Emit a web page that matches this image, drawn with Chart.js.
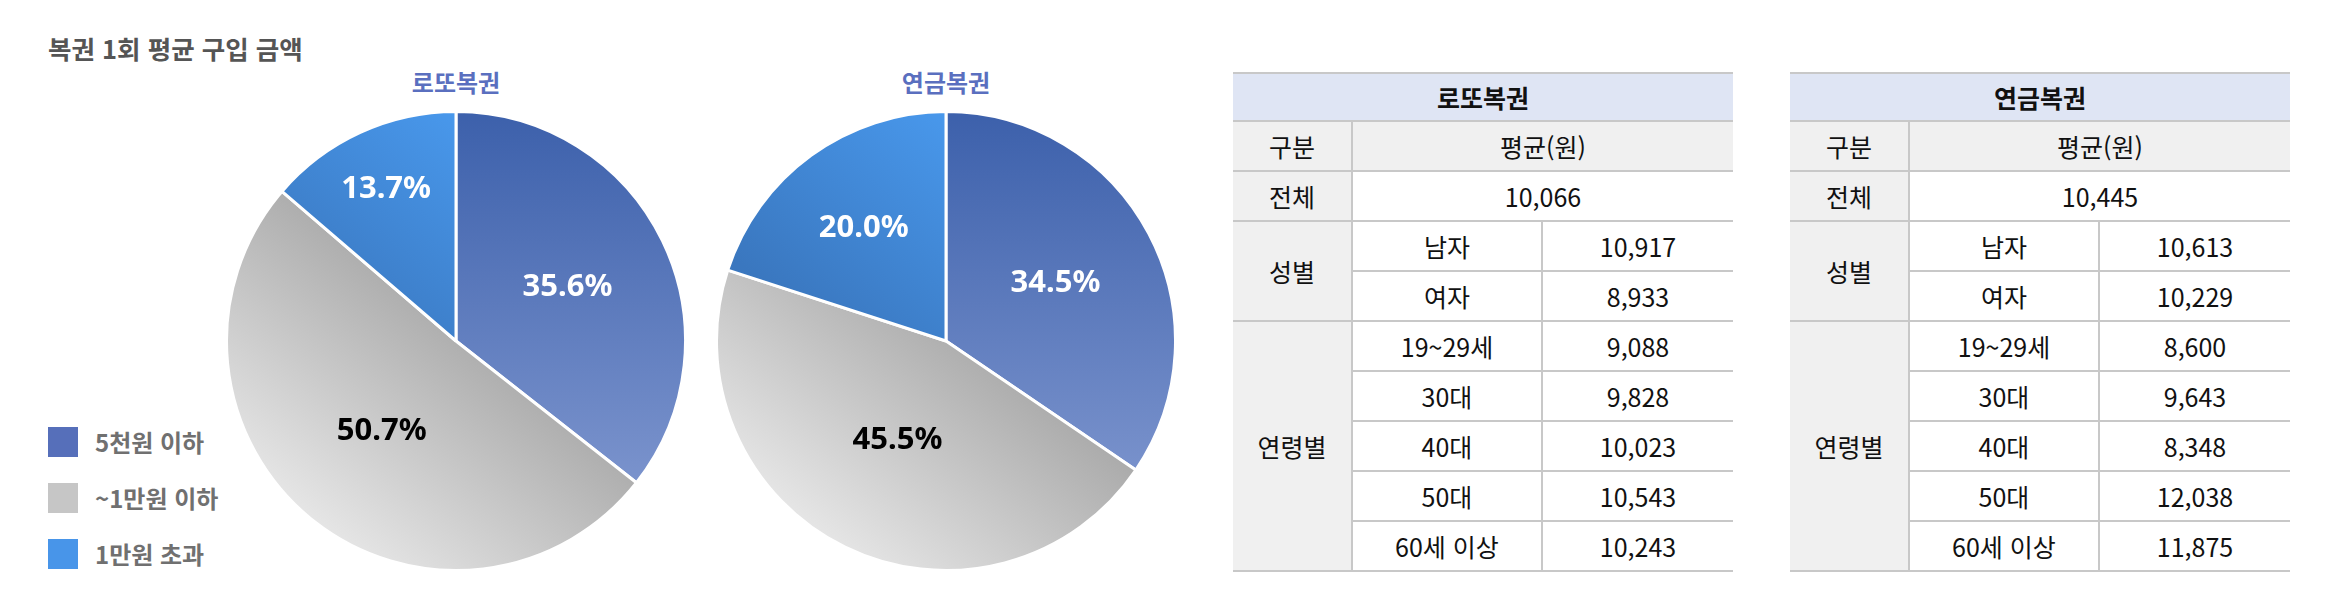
<!DOCTYPE html>
<html lang="ko">
<head>
<meta charset="utf-8">
<script src="https://cdn.jsdelivr.net/npm/chart.js@4.4.1/dist/chart.umd.min.js"></script>
<style>
  html, body { margin: 0; padding: 0; background: #ffffff; }
  body { width: 2336px; height: 600px; position: relative; overflow: hidden; font-family: "Noto Sans CJK KR", "Noto Sans", sans-serif; }
  #mainTitle { position: absolute; left: 48px; top: 30px; font-size: 25.5px; font-weight: 700; color: #555555; line-height: 36px; white-space: nowrap; }
  .pieTitle { position: absolute; top: 66px; width: 300px; margin-left: -150px; text-align: center; font-size: 24px; font-weight: 700; color: #5a6fbf; line-height: 32px; }
  canvas.pie { position: absolute; }
  .legItem { position: absolute; left: 48px; height: 30px; }
  .legBox { position: absolute; left: 0; top: 0; width: 30px; height: 30px; }
  .legText { position: absolute; left: 47px; top: -2px; line-height: 34px; font-size: 24px; font-weight: 700; color: #707070; white-space: nowrap; }
  table.stat { position: absolute; top: 72px; border-collapse: collapse; table-layout: fixed; font-size: 25px; color: #111111; border-left: 2px hidden; border-right: 2px hidden; }
  table.stat td { border: 2px solid #c8c8c8; text-align: center; vertical-align: middle; padding: 0; line-height: 30px; white-space: nowrap; }
  table.stat tr.head td { background: #dfe5f4; font-weight: 700; height: 46px; }
  table.stat tr.row td { height: 48px; }
  table.stat td.gray { background: #f0f0f0; }
</style>
</head>
<body>
<div id="mainTitle">복권 1회 평균 구입 금액</div>
<div class="pieTitle" style="left:456px">로또복권</div>
<div class="pieTitle" style="left:946px">연금복권</div>
<canvas class="pie" id="pie1" width="462" height="462" style="left:225px; top:110px;"></canvas>
<canvas class="pie" id="pie2" width="462" height="462" style="left:715px; top:110px;"></canvas>
<div id="legend"></div>
<table class="stat" id="tbl1" style="left:1233px; width:500px;"></table>
<table class="stat" id="tbl2" style="left:1790px; width:500px;"></table>
<script>
// ---- data ----
const categories = ['5천원 이하', '~1만원 이하', '1만원 초과'];
const lottoShare = [35.6, 50.7, 13.7];
const pensionShare = [34.5, 45.5, 20.0];

const genderLabels = ['남자', '여자'];
const ageLabels = ['19~29세', '30대', '40대', '50대', '60세 이상'];

const lottoTotal = 10066;
const lottoGender = [10917, 8933];
const lottoAge = [9088, 9828, 10023, 10543, 10243];

const pensionTotal = 10445;
const pensionGender = [10613, 10229];
const pensionAge = [8600, 9643, 8348, 12038, 11875];

// ---- styles ----
const legendColors = ['#566fba', '#c6c6c6', '#4895e9'];
const labelColors = ['#ffffff', '#000000', '#ffffff'];

function sliceFill(c) {
  const index = c.dataIndex;
  const chart = c.chart;
  const a = chart.chartArea;
  if (!a || index === undefined) return legendColors[index || 0];
  const cx = (a.left + a.right) / 2, cy = (a.top + a.bottom) / 2;
  const r = Math.min(a.right - a.left, a.bottom - a.top) / 2;
  const g = chart.ctx;
  const dx = -0.63, dy = 0.78;
  let grad;
  if (index === 0) {
    grad = g.createLinearGradient(cx, cy - r, cx, cy + 0.68 * r);
    grad.addColorStop(0, '#3c60ab');
    grad.addColorStop(1, '#7d95ce');
  } else if (index === 1) {
    grad = g.createLinearGradient(cx - 0.1 * r * dx, cy - 0.1 * r * dy, cx + r * dx, cy + r * dy);
    grad.addColorStop(0, '#aaaaaa');
    grad.addColorStop(1, '#e6e6e6');
  } else {
    grad = g.createLinearGradient(cx - 0.8 * r * dx, cy - 0.8 * r * dy, cx + 0.3 * r * dx, cy + 0.3 * r * dy);
    grad.addColorStop(0, '#4999ed');
    grad.addColorStop(1, '#3a77bf');
  }
  return grad;
}

const sliceLabels = {
  id: 'sliceLabels',
  afterDatasetsDraw(chart, args, opts) {
    const ctx = chart.ctx;
    const meta = chart.getDatasetMeta(0);
    const ds = chart.data.datasets[0];
    meta.data.forEach((arc, i) => {
      const p = arc.getProps(['x', 'y', 'startAngle', 'endAngle', 'outerRadius'], true);
      const mid = (p.startAngle + p.endAngle) / 2;
      const d = p.outerRadius * opts.fractions[i];
      ctx.save();
      ctx.font = 'bold 31px "Noto Sans", "Open Sans", sans-serif';
      ctx.fillStyle = labelColors[i];
      ctx.textAlign = 'center';
      ctx.textBaseline = 'middle';
      ctx.fillText(ds.data[i].toFixed(1) + '%', p.x + Math.cos(mid) * d, p.y + Math.sin(mid) * d);
      ctx.restore();
    });
  }
};

function makePie(id, values, fractions) {
  return new Chart(document.getElementById(id), {
    type: 'pie',
    data: {
      labels: categories,
      datasets: [{
        data: values,
        backgroundColor: sliceFill,
        borderColor: '#ffffff',
        borderWidth: 3
      }]
    },
    options: {
      responsive: false,
      animation: false,
      layout: { padding: 0 },
      plugins: {
        legend: { display: false },
        tooltip: { enabled: false },
        title: { display: false },
        sliceLabels: { fractions: fractions }
      }
    },
    plugins: [sliceLabels]
  });
}

makePie('pie1', lottoShare, [0.54, 0.51, 0.73]);
makePie('pie2', pensionShare, [0.54, 0.48, 0.61]);

// legend
const legend = document.getElementById('legend');
categories.forEach((name, i) => {
  const item = document.createElement('div');
  item.className = 'legItem';
  item.style.top = (427 + i * 56) + 'px';
  item.innerHTML = '<div class="legBox" style="background:' + legendColors[i] + '"></div><div class="legText">' + name + '</div>';
  legend.appendChild(item);
});

// tables
function fmt(v) { return v.toLocaleString('en-US'); }
function buildTable(id, title, total, gender, age, colW) {
  const t = document.getElementById(id);
  let h = '<colgroup>' + colW.map(w => '<col style="width:' + w + 'px">').join('') + '</colgroup>';
  h += '<tr class="head"><td colspan="3">' + title + '</td></tr>';
  h += '<tr class="row"><td class="gray">구분</td><td class="gray" colspan="2">평균(원)</td></tr>';
  h += '<tr class="row"><td class="gray">전체</td><td colspan="2">' + fmt(total) + '</td></tr>';
  genderLabels.forEach((g, i) => {
    h += '<tr class="row">' + (i === 0 ? '<td class="gray" rowspan="' + genderLabels.length + '">성별</td>' : '') +
      '<td>' + g + '</td><td>' + fmt(gender[i]) + '</td></tr>';
  });
  ageLabels.forEach((a, i) => {
    h += '<tr class="row">' + (i === 0 ? '<td class="gray" rowspan="' + ageLabels.length + '">연령별</td>' : '') +
      '<td>' + a + '</td><td>' + fmt(age[i]) + '</td></tr>';
  });
  t.innerHTML = h;
}
buildTable('tbl1', '로또복권', lottoTotal, lottoGender, lottoAge, [119, 190, 191]);
buildTable('tbl2', '연금복권', pensionTotal, pensionGender, pensionAge, [119, 190, 191]);
</script>
</body>
</html>
